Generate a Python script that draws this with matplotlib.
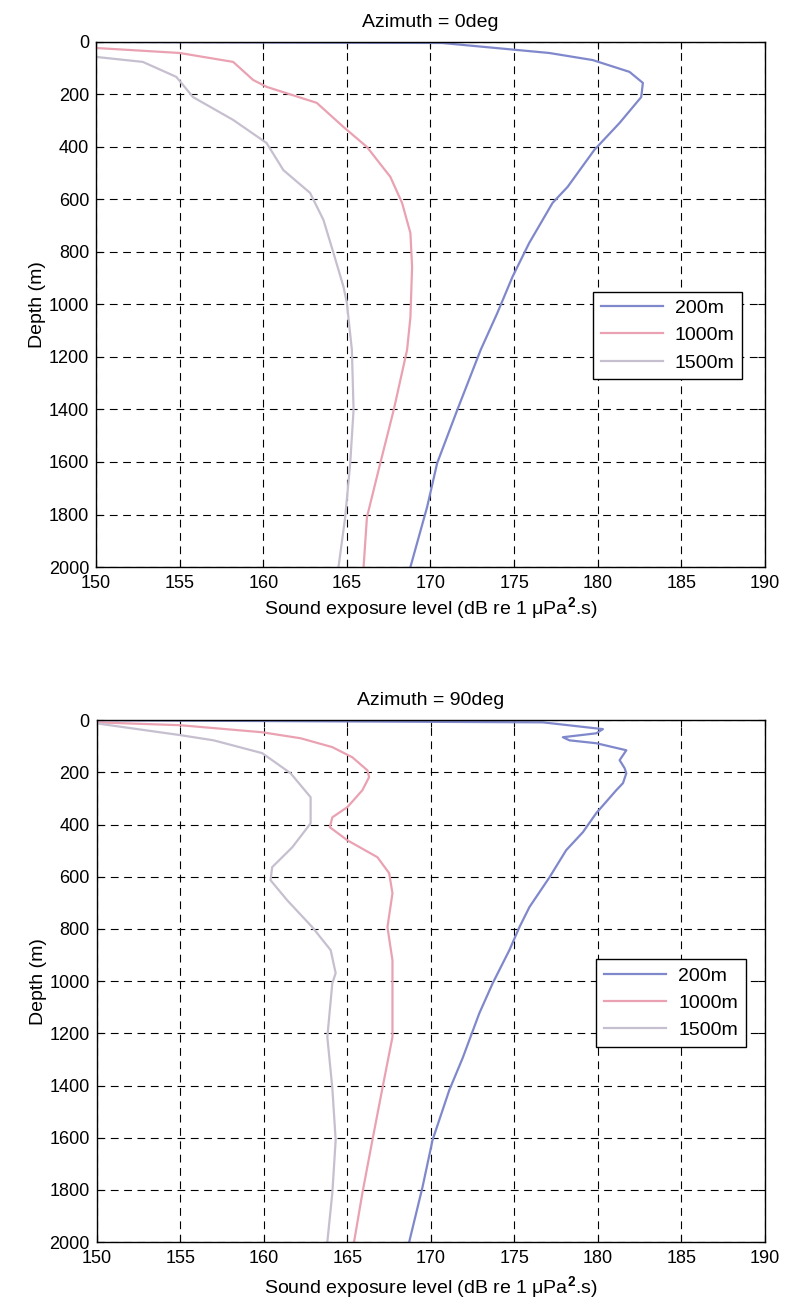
import matplotlib
matplotlib.use("Agg")
import matplotlib.pyplot as plt

# ---------------------------------------------------------------------------
# Data
# ---------------------------------------------------------------------------

RANGES = ["200m", "1000m", "1500m"]
COLORS = ["#8088cc", "#eaa2b2", "#c6bfcf"]

# Azimuth = 0 deg
az0_200_sel = [150.0, 170.7, 177.1, 179.7, 181.9, 182.7, 182.6, 181.3, 179.8, 178.2,
               177.3, 175.9, 174.9, 174.0, 173.0, 171.6, 170.4, 169.8, 168.8]
az0_200_depth = [0, 4, 42, 69, 114, 156, 210, 309, 411, 552,
                 613, 766, 895, 1032, 1173, 1402, 1604, 1771, 2000]

az0_1000_sel = [150.0, 155.0, 158.2, 159.4, 160.2, 163.2, 164.8, 166.2, 167.6, 168.3,
                168.8, 168.9, 168.8, 168.6, 167.8, 167.0, 166.2, 166.0]
az0_1000_depth = [23, 42, 76, 145, 171, 232, 324, 400, 514, 613,
                  728, 857, 1048, 1173, 1402, 1604, 1810, 2000]

az0_1500_sel = [150.0, 152.8, 154.8, 155.8, 158.2, 160.2, 161.2, 162.8, 163.6, 164.2,
                164.8, 165.0, 165.3, 165.4, 165.2, 164.9, 164.5]
az0_1500_depth = [57, 76, 133, 210, 297, 385, 488, 575, 678, 804,
                  933, 994, 1173, 1402, 1604, 1810, 2000]

# Azimuth = 90 deg
az90_200_sel = [150.0, 176.7, 180.3, 179.9, 177.9, 178.3, 179.9, 181.7, 181.3, 181.6,
                181.7, 181.5, 181.1, 179.9, 179.1, 178.1, 177.1, 175.9, 175.3, 174.7,
                173.7, 172.9, 171.9, 171.1, 170.1, 169.5, 168.7]
az90_200_depth = [0, 8, 34, 50, 65, 77, 88, 115, 153, 184,
                  203, 241, 268, 356, 429, 498, 602, 716, 793, 881,
                  1008, 1123, 1295, 1418, 1609, 1789, 2000]

az90_1000_sel = [150.0, 155.0, 159.9, 162.2, 164.1, 165.3, 166.2, 166.3, 165.9, 165.0,
                 164.1, 163.95, 165.0, 166.8, 167.5, 167.7, 167.4, 167.7, 167.7, 167.7,
                 167.1, 166.5, 165.9, 165.4]
az90_1000_depth = [8, 19, 46, 69, 103, 142, 192, 218, 268, 333,
                   372, 410, 460, 525, 586, 663, 793, 920, 1008, 1214,
                   1410, 1609, 1812, 2000]

az90_1500_sel = [150.0, 155.0, 157.0, 159.9, 161.6, 162.8, 162.8, 161.7, 160.5, 160.4,
                 161.4, 162.9, 164.0, 164.3, 164.1, 163.8, 164.1, 164.3, 164.1, 163.8]
az90_1500_depth = [12, 57, 77, 126, 203, 295, 395, 487, 563, 613,
                   690, 793, 881, 969, 1008, 1214, 1410, 1609, 1812, 2000]

X_TICKS = list(range(150, 191, 5))
Y_TICKS = list(range(0, 2001, 200))

PANELS = [
    ("Azimuth = 0deg",
     [(az0_200_sel, az0_200_depth), (az0_1000_sel, az0_1000_depth), (az0_1500_sel, az0_1500_depth)],
     [0.122, 0.5675, 0.850, 0.4005], (0.966, 0.441), 2),
    ("Azimuth = 90deg",
     [(az90_200_sel, az90_200_depth), (az90_1000_sel, az90_1000_depth), (az90_1500_sel, az90_1500_depth)],
     [0.123, 0.0526, 0.849, 0.398], (0.971, 0.458), 5),
]

plt.rcParams["font.family"] = ["Liberation Sans", "DejaVu Sans"]
plt.rcParams["mathtext.fontset"] = "custom"
plt.rcParams["mathtext.rm"] = "Liberation Sans"
plt.rcParams["mathtext.it"] = "Liberation Sans"
plt.rcParams["mathtext.bf"] = "Liberation Sans:bold"

fig = plt.figure(figsize=(7.87, 13.11), dpi=100)

for title, series, rect, leg_pos, xpad in PANELS:
    ax = fig.add_axes(rect)
    for (sel, depth), label, color in zip(series, RANGES, COLORS):
        ax.plot(sel, depth, color=color, lw=1.6, label=label)

    ax.set_xlim(150, 190)
    ax.set_ylim(2000, 0)
    ax.set_xticks(X_TICKS)
    ax.set_yticks(Y_TICKS)
    ax.tick_params(direction="in", length=5, labelsize=13, colors="black",
                   top=True, right=True)
    ax.tick_params(axis="x", pad=6)
    ax.tick_params(axis="y", pad=5)
    ax.grid(True, color="black", linestyle=(0, (7, 5)), linewidth=0.8)
    for sp in ax.spines.values():
        sp.set_color("black")
        sp.set_linewidth(1.0)

    ax.set_title(title, fontsize=14, pad=11)
    ax.set_ylabel("Depth (m)", fontsize=14, labelpad=2)
    ax.set_xlabel(r"Sound exposure level (dB re 1 $\mu$Pa$^{\mathbf{2}}$.s)",
                  fontsize=14, labelpad=xpad)

    leg = ax.legend(loc="center right", bbox_to_anchor=leg_pos, fontsize=14,
                    handlelength=3.2, handletextpad=0.6, fancybox=False, framealpha=1,
                    borderpad=0.4, labelspacing=0.5, borderaxespad=0)
    leg.get_frame().set_edgecolor("black")
    leg.get_frame().set_linewidth(1.0)

fig.savefig("out.png", dpi=100)
plt.close(fig)
